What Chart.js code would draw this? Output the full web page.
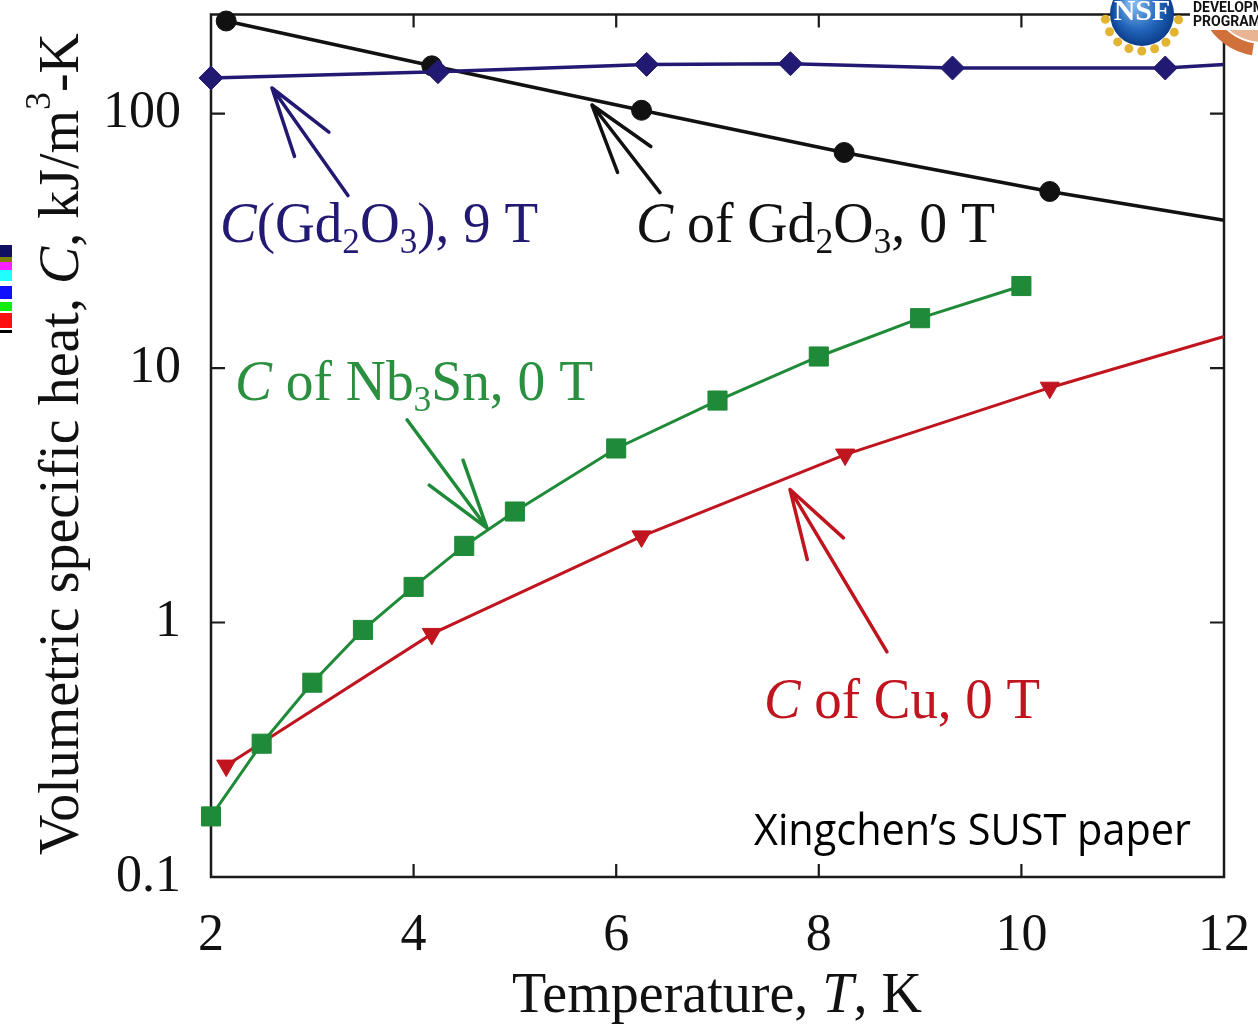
<!DOCTYPE html>
<html>
<head>
<meta charset="utf-8">
<script src="https://cdn.jsdelivr.net/npm/chart.js@4.4.1/dist/chart.umd.min.js"></script>
<style>
  html, body { margin: 0; padding: 0; background: #fff; }
  canvas { display: block; }
</style>
</head>
<body>
<canvas id="chart" width="1258" height="1024"></canvas>
<script>
// ---- data (T in K, C in kJ/m^3-K) ----
const gd9T = [2.0, 4.24, 6.3, 7.72, 9.32, 11.42, 12];
const gd9C = [138, 146, 156, 157, 151, 151, 156];

const gd0T = [2.15, 4.18, 6.25, 8.25, 10.28, 12];
const gd0C = [231, 154, 103, 70.3, 49.4, 38.1];

const nbT = [2, 2.5, 3, 3.5, 4, 4.5, 5, 6, 7, 8, 9, 10];
const nbC = [0.173, 0.334, 0.58, 0.935, 1.38, 2.0, 2.73, 4.83, 7.45, 11.1, 15.7, 21.0];

const cuT = [2.15, 4.18, 6.25, 8.26, 10.28, 12];
const cuC = [0.274, 0.902, 2.18, 4.57, 8.37, 13.3];

const xTicks = [2, 4, 6, 8, 10, 12];
const yTicks = [0.1, 1, 10, 100];

const NAVY = '#221a72';
const BLACK = '#111111';
const GREEN = '#1f8a38';
const RED = '#c0141e';
const SERIF = '"Liberation Serif", "DejaVu Serif", serif';

// labels and arrows, placed in data units
const labels = [
  { t: 2.089, c: 31.2, w: 318, color: NAVY,
    segs: [{ s: 'C', it: 1 }, { s: '(Gd' }, { s: '2', sub: 1 }, { s: 'O' }, { s: '3', sub: 1 }, { s: '), 9 T' }] },
  { t: 6.195, c: 31.2, w: 359, color: BLACK,
    segs: [{ s: 'C', it: 1 }, { s: ' of Gd' }, { s: '2', sub: 1 }, { s: 'O' }, { s: '3', sub: 1 }, { s: ', 0 T' }] },
  { t: 2.237, c: 7.51, w: 358, color: '#2a9040',
    segs: [{ s: 'C', it: 1 }, { s: ' of Nb' }, { s: '3', sub: 1 }, { s: 'Sn, 0 T' }] },
  { t: 7.459, c: 0.4196, w: 276, color: RED,
    segs: [{ s: 'C', it: 1 }, { s: ' of Cu, 0 T' }] }
];
const arrows = [
  { head: [2.602, 126], tail: [3.352, 47.6], color: NAVY },
  { head: [5.761, 108], tail: [6.432, 48.9], color: BLACK },
  { head: [4.725, 2.35], tail: [3.935, 6.26], color: GREEN },
  { head: [7.716, 3.33], tail: [8.673, 0.767], color: RED }
];
const note = { t: 7.36, c: 0.1336, text: 'Xingchen\u2019s SUST paper', w: 437 };

function pts(xs, ys) { return xs.map((x, i) => ({ x: x, y: ys[i] })); }
function radii(n, r, lastLineEnd) { return Array.from({ length: n }, (_, i) => (lastLineEnd && i === n - 1) ? 0 : r); }

function drawRich(ctx, segs, size, color, width, italicAll) {
  const parts = segs.map(g => {
    const sz = (g.sub || g.sup) ? size * 0.64 : size;
    const font = ((g.it || italicAll) ? 'italic ' : '') + sz + 'px ' + SERIF;
    ctx.font = font;
    return { s: g.s, font: font, w: ctx.measureText(g.s).width,
             dy: g.sub ? size * 0.2 : (g.sup ? -size * 0.5 : 0) };
  });
  const total = parts.reduce((a, p) => a + p.w, 0);
  const k = width ? width / total : 1;
  ctx.save();
  ctx.scale(k, 1);
  ctx.fillStyle = color;
  ctx.textAlign = 'left';
  ctx.textBaseline = 'alphabetic';
  let x = 0;
  parts.forEach(p => { ctx.font = p.font; ctx.fillText(p.s, x, p.dy); x += p.w; });
  ctx.restore();
}

const frame = {
  id: 'frame',
  beforeDatasetsDraw(chart) {
    const { ctx, chartArea: a, scales } = chart;
    ctx.save();
    ctx.strokeStyle = '#1a1a1a';
    ctx.lineWidth = 2.5;
    ctx.strokeRect(a.left, a.top, a.right - a.left, a.bottom - a.top);
    ctx.lineWidth = 2.2;
    ctx.beginPath();
    xTicks.slice(1, -1).forEach(v => {
      const px = scales.x.getPixelForValue(v);
      ctx.moveTo(px, a.bottom); ctx.lineTo(px, a.bottom - 13);
      ctx.moveTo(px, a.top); ctx.lineTo(px, a.top + 13);
    });
    yTicks.slice(1).forEach(v => {
      const py = scales.y.getPixelForValue(v);
      ctx.moveTo(a.left, py); ctx.lineTo(a.left + 14, py);
      ctx.moveTo(a.right, py); ctx.lineTo(a.right - 14, py);
    });
    ctx.stroke();
    ctx.restore();
  },
  afterDraw(chart) {
    const { ctx, chartArea: a, scales } = chart;
    const X = v => scales.x.getPixelForValue(v);
    const Y = v => scales.y.getPixelForValue(v);

    // arrows
    ctx.save();
    ctx.lineCap = 'round';
    ctx.lineWidth = 3.5;
    arrows.forEach(ar => {
      const hx = X(ar.head[0]), hy = Y(ar.head[1]);
      const tx = X(ar.tail[0]), ty = Y(ar.tail[1]);
      const ang = Math.atan2(ty - hy, tx - hx);
      const len = 72, spread = 17 * Math.PI / 180;
      ctx.strokeStyle = ar.color;
      ctx.beginPath();
      ctx.moveTo(tx, ty); ctx.lineTo(hx, hy);
      ctx.moveTo(hx, hy); ctx.lineTo(hx + len * Math.cos(ang + spread), hy + len * Math.sin(ang + spread));
      ctx.moveTo(hx, hy); ctx.lineTo(hx + len * Math.cos(ang - spread), hy + len * Math.sin(ang - spread));
      ctx.stroke();
    });
    ctx.restore();

    // series labels
    labels.forEach(l => {
      ctx.save();
      ctx.translate(X(l.t), Y(l.c));
      drawRich(ctx, l.segs, 56, l.color, l.w);
      ctx.restore();
    });

    // note
    ctx.save();
    ctx.font = '43px "Open Sans", "Noto Sans", sans-serif';
    const nw = ctx.measureText(note.text).width;
    ctx.translate(X(note.t), Y(note.c));
    ctx.scale(note.w / nw, 1);
    ctx.fillStyle = '#000';
    ctx.textBaseline = 'alphabetic';
    ctx.fillText(note.text, 0, 0);
    ctx.restore();

    // axis titles
    ctx.save();
    ctx.translate(78, 855);
    ctx.rotate(-Math.PI / 2);
    drawRich(ctx, [{ s: 'Volumetric specific heat, ' }, { s: 'C', it: 1 }, { s: ', kJ/m' }, { s: '3', sup: 1 }, { s: '-K' }], 56, '#111', 822);
    ctx.restore();
    ctx.save();
    ctx.translate(512, 1012);
    drawRich(ctx, [{ s: 'Temperature, ' }, { s: 'T', it: 1 }, { s: ', K' }], 56, '#111', 410);
    ctx.restore();

    // logo corner (decoration)
    ctx.save();
    ctx.strokeStyle = '#d0703a';
    ctx.lineWidth = 12;
    ctx.beginPath(); ctx.arc(1262, -8, 58, Math.PI * 0.55, Math.PI * 0.85); ctx.stroke();
    ctx.strokeStyle = '#e9b494';
    ctx.beginPath(); ctx.arc(1262, -8, 44, Math.PI * 0.5, Math.PI * 0.8); ctx.stroke();
    ctx.fillStyle = '#fff';
    ctx.fillRect(1190, 0, 68, 30);
    const g = ctx.createRadialGradient(1132, 2, 4, 1142, 14, 32);
    g.addColorStop(0, '#7fb6ea'); g.addColorStop(0.6, '#2266bb'); g.addColorStop(1, '#0c3d8c');
    ctx.fillStyle = '#e2b431';
    for (let i = 0; i < 9; i++) {
      const an = Math.PI * (0.05 + i * 0.113);
      ctx.beginPath(); ctx.arc(1142 + 37 * Math.cos(an), 14 + 37 * Math.sin(an), 4.5, 0, 2 * Math.PI); ctx.fill();
    }
    ctx.fillStyle = g;
    ctx.beginPath(); ctx.arc(1142, 14, 32, 0, 2 * Math.PI); ctx.fill();
    ctx.fillStyle = '#fff';
    ctx.font = 'bold 30px ' + SERIF;
    ctx.textAlign = 'center';
    ctx.fillText('NSF', 1142, 20);
    ctx.fillStyle = '#111';
    ctx.textAlign = 'left';
    ctx.font = 'bold 14px Roboto, sans-serif';
    ctx.fillText('DEVELOPM', 1193, 12);
    ctx.fillText('PROGRAM', 1193, 26);
    // colour strip at the left edge
    [['#101060', 245, 12], ['#808000', 257, 5], ['#ff20ff', 262, 8], ['#20ffff', 270, 11],
     ['#1010ff', 286, 13], ['#10ee10', 302, 9], ['#ff1010', 313, 15], ['#000', 330, 3]].forEach(b => {
      ctx.fillStyle = b[0]; ctx.fillRect(0, b[1], 12, b[2]);
    });
    ctx.restore();
  }
};

new Chart(document.getElementById('chart'), {
  type: 'scatter',
  data: {
    datasets: [
      { label: 'C(Gd2O3), 9 T', data: pts(gd9T, gd9C), showLine: true,
        borderColor: NAVY, backgroundColor: NAVY, borderWidth: 3.5,
        pointStyle: 'rectRot', pointRadius: radii(gd9T.length, 12, true), pointBorderWidth: 1, clip: false },
      { label: 'C of Gd2O3, 0 T', data: pts(gd0T, gd0C), showLine: true,
        borderColor: BLACK, backgroundColor: BLACK, borderWidth: 3.5,
        pointStyle: 'circle', pointRadius: radii(gd0T.length, 10, true), pointBorderWidth: 1, clip: false },
      { label: 'C of Nb3Sn, 0 T', data: pts(nbT, nbC), showLine: true,
        borderColor: GREEN, backgroundColor: GREEN, borderWidth: 3,
        pointStyle: 'rect', pointRadius: 13.5, pointBorderWidth: 1, clip: false },
      { label: 'C of Cu, 0 T', data: pts(cuT, cuC), showLine: true,
        borderColor: RED, backgroundColor: RED, borderWidth: 3,
        pointStyle: 'triangle', pointRotation: 180, pointRadius: radii(cuT.length, 11, true), pointBorderWidth: 1, clip: false }
    ]
  },
  options: {
    responsive: false,
    animation: false,
    layout: { padding: { left: 0, right: 34, top: 11, bottom: 0 } },
    plugins: { legend: { display: false }, tooltip: { enabled: false } },
    scales: {
      x: {
        type: 'linear', min: 2, max: 12,
        afterBuildTicks: s => { s.ticks = xTicks.map(v => ({ value: v })); },
        afterFit: s => { s.height = 147; s.paddingLeft = 0; s.paddingRight = 0; },
        grid: { display: false, drawTicks: false },
        border: { display: false },
        ticks: { color: '#111', padding: 28, font: { family: SERIF, size: 52 }, maxRotation: 0 }
      },
      y: {
        type: 'logarithmic', min: 0.1, max: 245,
        afterBuildTicks: s => { s.ticks = yTicks.map(v => ({ value: v })); },
        afterFit: s => { s.width = 211; s.paddingTop = 0; s.paddingBottom = 0; },
        grid: { display: false, drawTicks: false },
        border: { display: false },
        ticks: { color: '#111', padding: 30, font: { family: SERIF, size: 52 },
                 callback: v => String(v) }
      }
    }
  },
  plugins: [frame]
});
</script>
</body>
</html>
